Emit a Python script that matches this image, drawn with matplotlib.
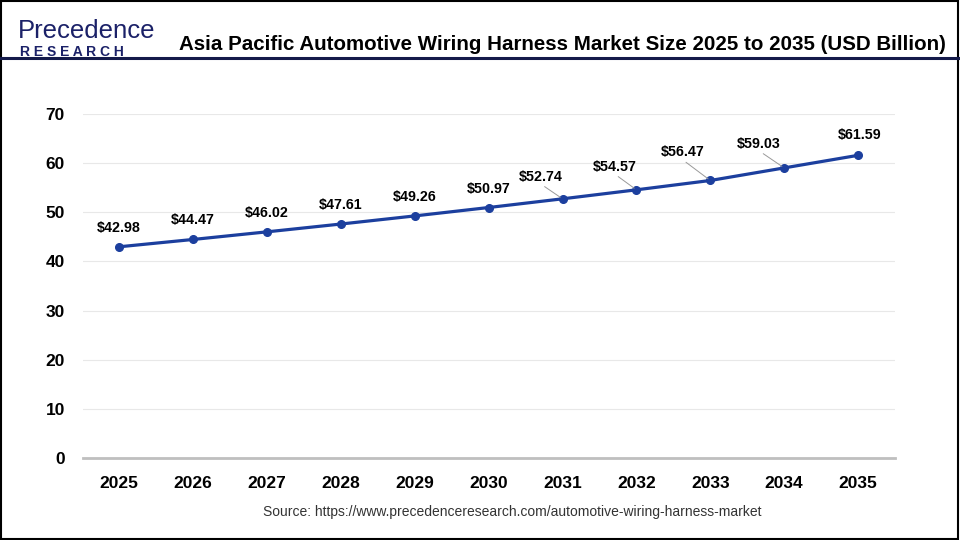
import matplotlib
matplotlib.use("Agg")
import matplotlib.pyplot as plt
from matplotlib.patches import Rectangle
from matplotlib.lines import Line2D

years = [2025, 2026, 2027, 2028, 2029, 2030, 2031, 2032, 2033, 2034, 2035]
values = [42.98, 44.47, 46.02, 47.61, 49.26, 50.97, 52.74, 54.57, 56.47, 59.03, 61.59]
labels = ["$" + format(v, ".2f") for v in values]
yticks = [0, 10, 20, 30, 40, 50, 60, 70]

# label offsets in pixels (dx, dy) and whether a leader line is drawn
offsets = [(0, 19)] * 6 + [(-22, 22), (-22, 23), (-28, 28), (-25, 24), (2, 20)]
leaders = [False] * 6 + [True, True, True, True, False]

plt.rcParams['font.family'] = ['Liberation Sans', 'DejaVu Sans']

fig = plt.figure(figsize=(9.6, 5.4), dpi=100)
fig.patch.set_facecolor("white")

# outer border and header rule
fig.add_artist(Rectangle((0.001, 0.002), 0.997, 0.996, transform=fig.transFigure,
                         fill=False, edgecolor="black", lw=1.5))
fig.add_artist(Line2D([0, 1], [1 - 58 / 540] * 2, transform=fig.transFigure,
                      color="#141a4a", lw=2.2))

# logo
fig.text(18 / 960, 1 - 38 / 540, "Precedence", fontsize=18.5, color="#1b2168",
         ha="left", va="baseline")
fig.text(20 / 960, 1 - 56 / 540, "R E S E A R C H", fontsize=10, fontweight="bold",
         color="#1b2168", ha="left", va="baseline")

fig.text(562 / 960, 1 - 44 / 540,
         "Asia Pacific Automotive Wiring Harness Market Size 2025 to 2035 (USD Billion)",
         fontsize=14.8, fontweight="bold", ha="center", va="center", color="black")

ax = fig.add_axes([83 / 960, 1 - 458 / 540, 812 / 960, 344 / 540])
ax.plot(years, values, color="#1c3f9e", lw=2.3, marker="o", markersize=5.5, zorder=3)

for x, y, t, (dx, dy), ld in zip(years, values, labels, offsets, leaders):
    if ld:
        ax.annotate(t, (x, y), xytext=(dx, dy), textcoords="offset pixels",
                    ha="center", va="center", fontsize=10.3, fontweight="bold",
                    arrowprops=dict(arrowstyle="-", color="#999999", lw=0.7,
                                    relpos=(0.5, 0.0), shrinkA=0, shrinkB=2))
    else:
        ax.annotate(t, (x, y), xytext=(dx, dy), textcoords="offset pixels",
                    ha="center", va="center", fontsize=10.3, fontweight="bold")

ax.set_xlim(2024.51, 2035.5)
ax.set_ylim(0, 70)
ax.set_yticks(yticks)
ax.set_xticks(years)
ax.set_xticklabels([str(y) for y in years])
ax.grid(axis="y", color="#e8e8e8", lw=0.8)
ax.set_axisbelow(True)
for s in ["top", "right", "left"]:
    ax.spines[s].set_visible(False)
ax.spines["bottom"].set_color("#bfbfbf")
ax.spines["bottom"].set_linewidth(2)
ax.tick_params(axis="both", length=0, labelsize=12.5)
ax.tick_params(axis="x", pad=13)
ax.tick_params(axis="y", pad=13)
for lb in ax.get_xticklabels() + ax.get_yticklabels():
    lb.set_fontweight("bold")

fig.text(512 / 960, 1 - 512 / 540,
         "Source: https://www.precedenceresearch.com/automotive-wiring-harness-market",
         fontsize=10, color="#333333", ha="center", va="center")

fig.savefig("out.png", dpi=100)
